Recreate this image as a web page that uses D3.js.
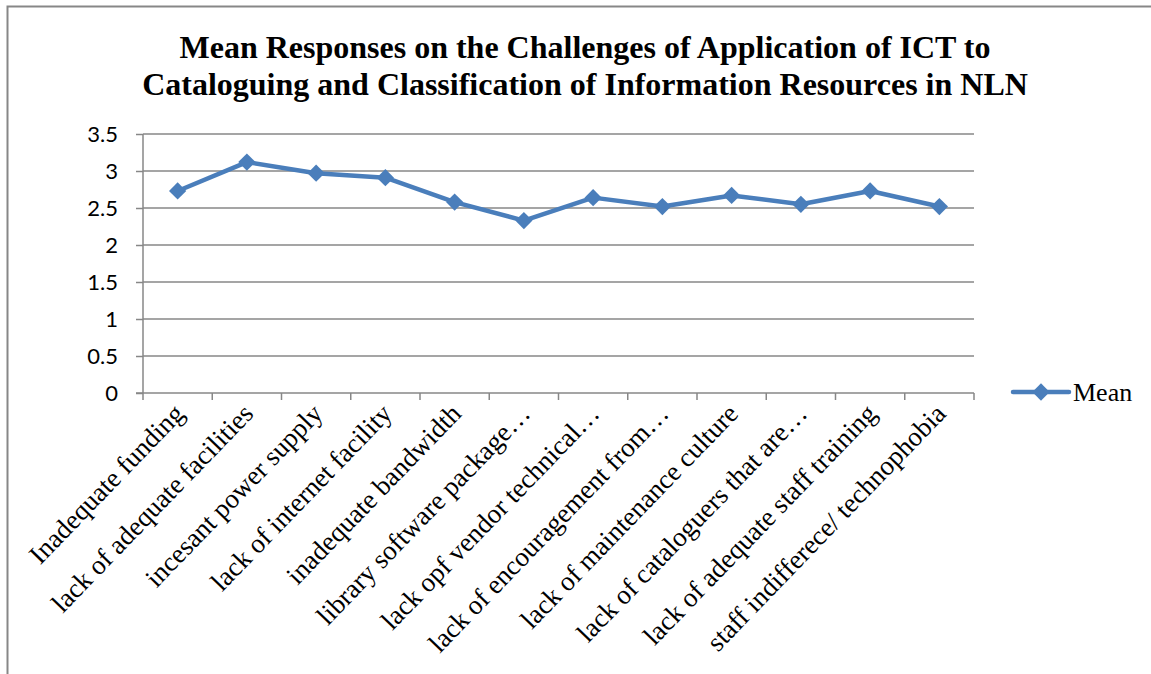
<!DOCTYPE html>
<html>
<head>
<meta charset="utf-8">
<script src="https://cdn.jsdelivr.net/npm/d3@7"></script>
<style>
  body { margin: 0; background: #fff; }
</style>
</head>
<body>
<script>
var width = 1151;
var height = 674;

// ------- data --------
var categories = [
    'Inadequate funding',
    'lack of adequate facilities',
    'incesant power supply',
    'lack of internet facility',
    'inadequate bandwidth',
    'library software package\u2026',
    'lack opf vendor technical\u2026',
    'lack of encouragement from\u2026',
    'lack of maintenance culture',
    'lack of cataloguers that are\u2026',
    'lack of adequate staff training',
    'staff indifferece/ technophobia'
];
var meanValues = [2.73, 3.12, 2.97, 2.91, 2.58, 2.33, 2.64, 2.52, 2.67, 2.55, 2.73, 2.52];
var yTicks = [0, 0.5, 1, 1.5, 2, 2.5, 3, 3.5];
var titleLines = [
    'Mean Responses on the Challenges of Application of ICT to',
    'Cataloguing and Classification of Information Resources in NLN'
];
var seriesName = 'Mean';

var blue = '#4a7ebb';
var grid = '#878787';

// ------- SVG --------
var svg = d3.select('body')
    .append('svg')
    .attr('width', width)
    .attr('height', height);

// chart frame (only top and left edges show)
svg.append('path')
    .attr('d', 'M7.5,' + height + 'V6.5H' + width)
    .attr('fill', 'none')
    .attr('stroke', grid)
    .attr('stroke-width', 2);

// title
svg.append('g').selectAll('text')
    .data(titleLines)
    .enter()
    .append('text')
    .attr('x', 585)
    .attr('y', function(d, i) { return 58 + i * 37; })
    .attr('text-anchor', 'middle')
    .style('font-family', '"Liberation Serif", "Times New Roman", serif')
    .style('font-weight', 'bold')
    .style('font-size', '32px')
    .text(function(d) { return d; });

var plotLeft = 143, plotRight = 974, plotTop = 134, plotBottom = 393;

var x = d3.scaleBand()
        .range([plotLeft, plotRight])
        .domain(categories),
    y = d3.scaleLinear()
        .range([plotBottom, plotTop])
        .domain([0, 3.5]);

// gridlines
svg.append('g').selectAll('line')
    .data(yTicks.slice(1))
    .enter()
    .append('line')
    .attr('x1', plotLeft)
    .attr('x2', plotRight)
    .attr('y1', function(d) { return y(d); })
    .attr('y2', function(d) { return y(d); })
    .attr('stroke', grid)
    .attr('stroke-width', 1.5);

// y axis
var yAxis = svg.append('g')
    .attr('transform', 'translate(' + plotLeft + ',0)')
    .call(d3.axisLeft(y).tickValues(yTicks).tickSize(7).tickPadding(18)
        .tickFormat(function(d) { return String(d); }));
yAxis.selectAll('line, path').attr('stroke', grid).attr('stroke-width', 1.5);
yAxis.select('.domain').attr('d', 'M0,' + plotBottom + 'V' + plotTop);
yAxis.selectAll('text')
    .style('font-family', 'Lato, "Open Sans", sans-serif')
    .style('font-size', '22px')
    .attr('fill', '#000');

// x axis
var xAxis = svg.append('g')
    .attr('transform', 'translate(0,' + plotBottom + ')');
xAxis.append('line')
    .attr('x1', plotLeft - 7)
    .attr('x2', plotRight)
    .attr('stroke', grid)
    .attr('stroke-width', 1.5);
var edges = categories.map(function(d) { return x(d); }).concat([plotRight]);
xAxis.selectAll('line.tick')
    .data(edges)
    .enter()
    .append('line')
    .attr('class', 'tick')
    .attr('x1', function(d) { return d; })
    .attr('x2', function(d) { return d; })
    .attr('y1', 0)
    .attr('y2', 7)
    .attr('stroke', grid)
    .attr('stroke-width', 1.5);
xAxis.selectAll('text')
    .data(categories)
    .enter()
    .append('text')
    .attr('transform', function(d) {
        return 'translate(' + (x(d) + x.bandwidth() / 2 + 8) + ',22) rotate(-46)';
    })
    .attr('text-anchor', 'end')
    .style('font-family', '"Liberation Serif", "Times New Roman", serif')
    .style('font-size', '27px')
    .text(function(d) { return d; });

// line
var line = d3.line()
    .x(function(d, i) { return x(categories[i]) + x.bandwidth() / 2; })
    .y(function(d) { return y(d); });

svg.append('path')
    .datum(meanValues)
    .attr('d', line)
    .attr('fill', 'none')
    .attr('stroke', blue)
    .attr('stroke-width', 4.5)
    .attr('stroke-linejoin', 'round');

var diamond = d3.symbol().type(d3.symbolDiamond2).size(190);

svg.append('g').selectAll('path')
    .data(meanValues)
    .enter()
    .append('path')
    .attr('d', diamond)
    .attr('transform', function(d, i) {
        return 'translate(' + (x(categories[i]) + x.bandwidth() / 2) + ',' + y(d) + ')';
    })
    .attr('fill', blue);

// legend
var legend = svg.append('g').attr('transform', 'translate(1013,392)');
legend.append('line')
    .attr('x1', 0)
    .attr('x2', 56)
    .attr('stroke', blue)
    .attr('stroke-width', 4.5)
    .attr('stroke-linecap', 'round');
legend.append('path')
    .attr('d', diamond)
    .attr('transform', 'translate(28,0)')
    .attr('fill', blue);
legend.append('text')
    .attr('x', 60)
    .attr('y', 9)
    .style('font-family', '"Liberation Serif", "Times New Roman", serif')
    .style('font-size', '26px')
    .text(seriesName);
</script>
</body>
</html>
